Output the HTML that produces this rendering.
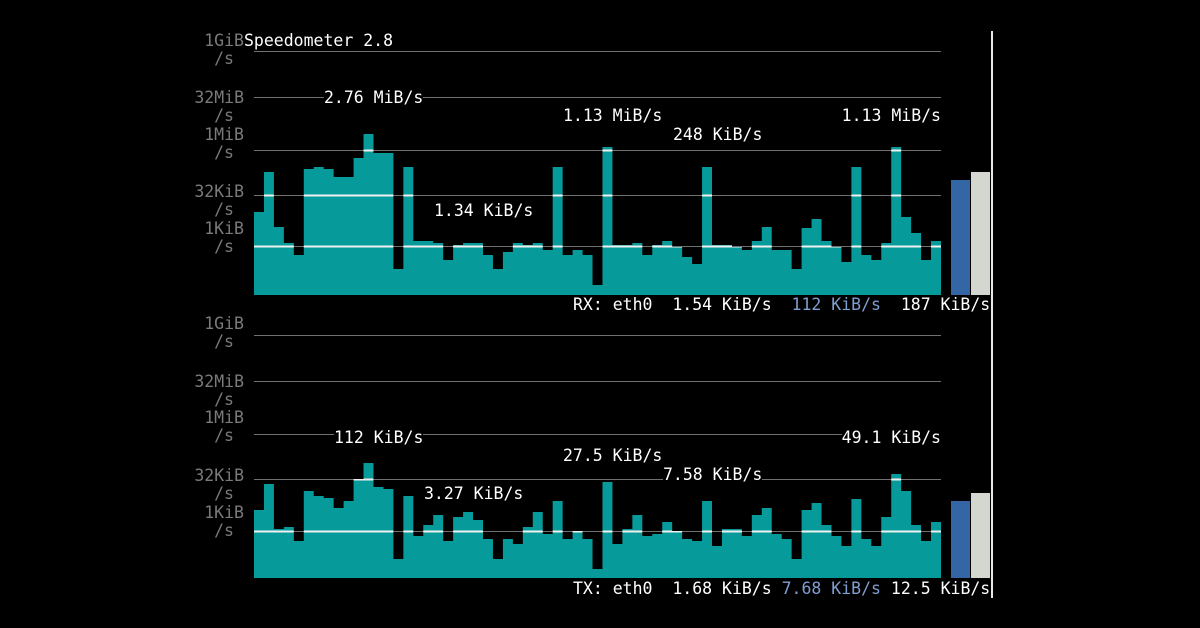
<!DOCTYPE html>
<html><head><meta charset="utf-8">
<style>
html,body{margin:0;padding:0;background:#000;}
#wrap{position:relative;width:1200px;height:628px;overflow:hidden;background:#000;font-family:"DejaVu Sans Mono","Liberation Mono",monospace;font-size:16.5px;}
svg{position:absolute;left:0;top:0;}
.t{position:absolute;white-space:pre;line-height:18px;background:#000;color:#fff;}
.g{color:#7a7a7a;background:transparent;}
.r{text-align:right;}
.b{color:#7f9fd0;}
</style></head><body>
<div id="wrap">
<svg id="s" width="1200" height="628"></svg>
<div id="labels"></div>
</div>
<script>
var rx=[212,172,227,243,255,169,167,169,177,177,158,134,153,153,269,167,241,241,243,260,245,243,243,255,269,252,243,245,243,250,167,255,250,255,285,147,245,245,243,255,245,241,247,257,264,167,245,245,247,250,241,227,250,250,269,228,219,241,247,262,167,255,260,243,147,217,233,260,241];
var tx=[510,484,529,527,541,491,496,498,508,501,479,463,487,489,559,496,536,525,515,541,517,512,520,539,559,539,544,527,512,534,501,539,531,539,569,482,544,529,515,536,534,522,531,539,541,501,546,529,529,536,515,508,534,539,559,510,503,525,536,546,499,539,546,517,474,491,525,541,522];
var W=(941-254)/69;
function panel(id,data,base,grid,whiteLines,blueTop,grayTop){
  var s='';
  grid.forEach(function(y){s+='<rect x="254" y="'+y+'" width="687" height="1" fill="#707070"/>';});
  var p='M254 '+base;
  data.forEach(function(t,i){var x0=254+i*W,x1=254+(i+1)*W;p+=' L'+x0.toFixed(2)+' '+t+' L'+x1.toFixed(2)+' '+t;});
  p+=' L941 '+base+' Z';
  s+='<clipPath id="c'+id+'"><path d="'+p+'"/></clipPath>';
  s+='<path d="'+p+'" fill="#079a9a"/>';
  whiteLines.forEach(function(y){s+='<rect x="254" y="'+(y-0.5)+'" width="687" height="2" fill="#f0f0f0" clip-path="url(#c'+id+')"/>';});
  s+='<rect x="951" y="'+blueTop+'" width="19" height="'+(base-blueTop)+'" fill="#3465a4"/>';
  s+='<rect x="971" y="'+grayTop+'" width="19" height="'+(base-grayTop)+'" fill="#d3d7cf"/>';
  return s;
}
var svg=panel('a',rx,295,[51,97,150,195,246],[150,195,246],180,172)+panel('b',tx,578,[335,381,434,479,531],[434,479,531],501,493);
svg+='<rect x="991" y="31" width="2" height="567" fill="#e8e8e8"/>';
document.getElementById('s').innerHTML=svg;
var L='';
function yl(top,name){
  L+='<div class="t g r" style="left:150px;width:94px;top:'+(top-8)+'px">'+name+'</div>';
  L+='<div class="t g r" style="left:150px;width:84px;top:'+(top+10)+'px">/s</div>';
}
[[40,'1GiB'],[97,'32MiB'],[134,'1MiB'],[191,'32KiB'],[228,'1KiB'],[323,'1GiB'],[381,'32MiB'],[417,'1MiB'],[475,'32KiB'],[512,'1KiB']].forEach(function(a){yl(a[0],a[1]);});
function lab(x,y,t){L+='<div class="t" style="left:'+x+'px;top:'+(y-8)+'px">'+t+'</div>';}
function labr(x,y,t){L+='<div class="t" style="right:'+(1200-x)+'px;top:'+(y-8)+'px">'+t+'</div>';}
lab(244,40,'Speedometer 2.8');
lab(324,97,'2.76 MiB/s');
lab(563,115,'1.13 MiB/s');
labr(941,115,'1.13 MiB/s');
lab(673,134,'248 KiB/s');
lab(434,210,'1.34 KiB/s');
L+='<div class="t" style="left:573px;top:296px">RX: eth0  1.54 KiB/s  <span class="b">112 KiB/s</span>  187 KiB/s</div>';
lab(334,437,'112 KiB/s');
labr(941,437,'49.1 KiB/s');
lab(563,455,'27.5 KiB/s');
lab(663,474,'7.58 KiB/s');
lab(424,493,'3.27 KiB/s');
L+='<div class="t" style="left:573px;top:580px">TX: eth0  1.68 KiB/s <span class="b">7.68 KiB/s</span> 12.5 KiB/s</div>';
document.getElementById('labels').innerHTML=L;
</script>
</body></html>
